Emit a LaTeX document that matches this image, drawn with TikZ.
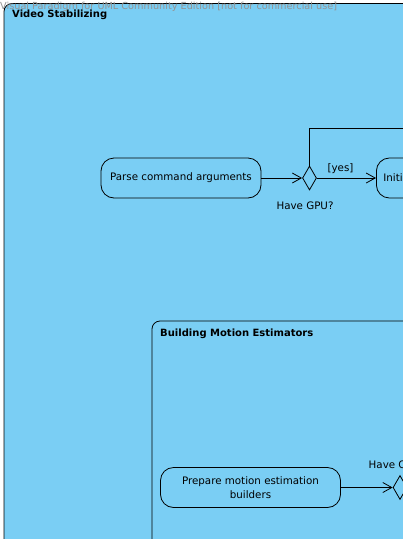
\documentclass[tikz,border=0pt]{standalone}
\usepackage{fontspec}
\setmainfont{DejaVu Sans}
\usetikzlibrary{arrows.meta,shapes.geometric}
\definecolor{vpblue}{HTML}{7ACEF4}
\tikzset{
  frame/.style={draw=black,fill=vpblue,rounded corners=8pt,line width=0.8pt},
  action/.style={draw=black,fill=vpblue,rounded corners=13pt,line width=0.8pt,inner sep=0pt,align=center,font=\fontsize{10.3}{14}\selectfont},
  decision/.style={draw=black,fill=vpblue,shape=diamond,minimum width=14pt,minimum height=24pt,inner sep=0pt,line width=0.8pt},
  flow/.style={draw=black,line width=0.8pt,-{Straight Barb[length=9pt,width=10pt,line width=0.8pt]}},
  lbl/.style={font=\fontsize{10.3}{12}\selectfont,inner sep=0pt},
  ttl/.style={font=\fontsize{10}{12}\selectfont\bfseries,inner sep=0pt,anchor=west},
}
\begin{document}
\begin{tikzpicture}[x=1pt,y=-1pt]
\useasboundingbox (0,0) rectangle (403,539);
\clip (0,0) rectangle (403,539);
\fill[white] (0,0) rectangle (403,539);
% outer frame
\path[frame] (4,3.5) rectangle (430,570);
\node[ttl] (t1) at (12,15) {Video Stabilizing};
% inner frame
\path[frame] (152,321) rectangle (430,570);
\node[ttl] (t2) at (160,334) {Building Motion Estimators};
% watermark
\node[font=\fontsize{9.7}{12}\selectfont,text=gray!85,inner sep=0pt,anchor=west] (wm) at (0,6.5) {Visual Paradigm for UML Community Edition [not for commercial use]};
% top row
\node[action,minimum width=160pt,minimum height=40pt] (parse) at (181,178) {Parse command arguments};
\node[decision] (gpu) at (309.5,178) {};
\node[lbl] (gpul) at (305,206) {Have GPU?};
\node[action,minimum width=160pt,minimum height=40pt,anchor=west,text width=150pt,align=left] (init) at (376,178) {\hspace*{2pt}Initialize};
\coordinate (topR) at (410,128.5);
\draw[flow] (parse.east) -- (gpu.west);
\draw[flow] (gpu.east) -- node[lbl,above=4pt,pos=0.4] (yes) {[yes]} (init.west);
\draw[line width=0.8pt] (gpu.north) |- (topR);
% inner row
\node[action,minimum width=180pt,minimum height=40pt] (prep) at (250.5,487.5) {Prepare motion estimation\\builders};
\node[decision] (cpu) at (400,487.5) {};
\node[lbl,anchor=west] (cpul) at (368.5,465) {Have CPU?};
\draw[flow] (prep.east) -- (cpu.west);
\end{tikzpicture}
\end{document}
